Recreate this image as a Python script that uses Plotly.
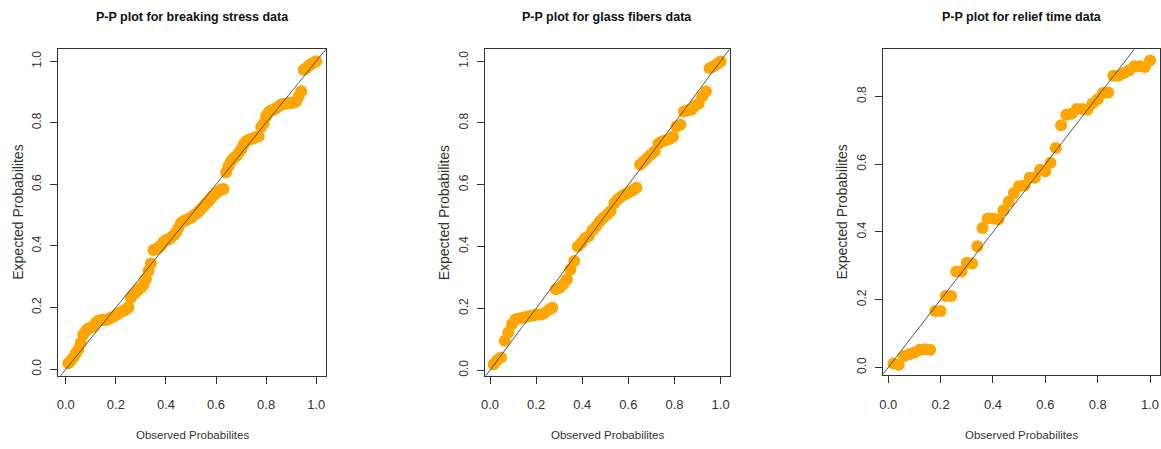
import plotly.graph_objects as go

# ---------------- data ----------------
stress_obs = [0.01, 0.02, 0.03, 0.04, 0.05, 0.06, 0.07, 0.08, 0.09, 0.10,
              0.11, 0.12, 0.13, 0.14, 0.15, 0.16, 0.17, 0.18, 0.19, 0.20,
              0.21, 0.22, 0.23, 0.24, 0.25, 0.26, 0.27, 0.28, 0.29, 0.30,
              0.31, 0.32, 0.33, 0.34, 0.35, 0.36, 0.37, 0.38, 0.39, 0.40,
              0.41, 0.42, 0.43, 0.44, 0.45, 0.46, 0.47, 0.48, 0.49, 0.50,
              0.51, 0.52, 0.53, 0.54, 0.55, 0.56, 0.57, 0.58, 0.59, 0.60,
              0.61, 0.62, 0.63, 0.64, 0.65, 0.66, 0.67, 0.68, 0.69, 0.70,
              0.71, 0.72, 0.73, 0.74, 0.75, 0.76, 0.77, 0.78, 0.79, 0.80,
              0.81, 0.82, 0.83, 0.84, 0.85, 0.86, 0.87, 0.88, 0.89, 0.90,
              0.91, 0.92, 0.93, 0.94, 0.95, 0.96, 0.97, 0.98, 0.99, 1.00]
stress_exp = [0.019, 0.027, 0.038, 0.052, 0.065, 0.086, 0.113, 0.124, 0.132, 0.135,
              0.138, 0.151, 0.157, 0.160, 0.160, 0.160, 0.162, 0.167, 0.170, 0.175,
              0.181, 0.186, 0.189, 0.194, 0.200, 0.232, 0.243, 0.250, 0.259, 0.265,
              0.275, 0.292, 0.319, 0.343, 0.387, 0.389, 0.394, 0.402, 0.413, 0.419,
              0.421, 0.427, 0.434, 0.443, 0.459, 0.475, 0.480, 0.484, 0.488, 0.491,
              0.499, 0.505, 0.512, 0.520, 0.529, 0.538, 0.545, 0.556, 0.564, 0.572,
              0.578, 0.583, 0.585, 0.639, 0.659, 0.675, 0.686, 0.691, 0.702, 0.713,
              0.729, 0.740, 0.745, 0.747, 0.750, 0.754, 0.756, 0.786, 0.797, 0.821,
              0.834, 0.840, 0.842, 0.848, 0.853, 0.859, 0.862, 0.862, 0.864, 0.864,
              0.866, 0.869, 0.886, 0.902, 0.972, 0.977, 0.985, 0.991, 0.996, 1.000]

glass_obs = [0.0159, 0.0317, 0.0476, 0.0635, 0.0794, 0.0952, 0.1111, 0.1270, 0.1429,
             0.1587, 0.1746, 0.1905, 0.2063, 0.2222, 0.2381, 0.2540, 0.2698, 0.2857,
             0.3016, 0.3175, 0.3333, 0.3492, 0.3651, 0.3810, 0.3968, 0.4127, 0.4286,
             0.4444, 0.4603, 0.4762, 0.4921, 0.5079, 0.5238, 0.5397, 0.5556, 0.5714,
             0.5873, 0.6032, 0.6190, 0.6349, 0.6508, 0.6667, 0.6825, 0.6984, 0.7143,
             0.7302, 0.7460, 0.7619, 0.7778, 0.7937, 0.8095, 0.8254, 0.8413, 0.8571,
             0.8730, 0.8889, 0.9048, 0.9206, 0.9365, 0.9524, 0.9683, 0.9841, 1.0000]
glass_exp = [0.019, 0.033, 0.041, 0.095, 0.122, 0.149, 0.165, 0.167, 0.170,
             0.173, 0.175, 0.178, 0.180, 0.180, 0.186, 0.195, 0.202, 0.262,
             0.267, 0.278, 0.294, 0.326, 0.353, 0.400, 0.412, 0.428, 0.434,
             0.453, 0.466, 0.482, 0.493, 0.504, 0.515, 0.541, 0.554, 0.563,
             0.570, 0.576, 0.582, 0.590, 0.665, 0.676, 0.687, 0.698, 0.708,
             0.733, 0.740, 0.744, 0.748, 0.755, 0.789, 0.794, 0.837, 0.841,
             0.843, 0.856, 0.862, 0.886, 0.902, 0.977, 0.983, 0.991, 0.999]

relief_obs = [0.02, 0.04, 0.06, 0.08, 0.10, 0.12, 0.14, 0.16, 0.18, 0.20,
              0.22, 0.24, 0.26, 0.28, 0.30, 0.32, 0.34, 0.36, 0.38, 0.40,
              0.42, 0.44, 0.46, 0.48, 0.50, 0.52, 0.54, 0.56, 0.58, 0.60,
              0.62, 0.64, 0.66, 0.68, 0.70, 0.72, 0.74, 0.76, 0.78, 0.80,
              0.82, 0.84, 0.86, 0.88, 0.90, 0.92, 0.94, 0.96, 0.98, 1.00]
relief_exp = [0.012, 0.008, 0.034, 0.039, 0.044, 0.052, 0.054, 0.052, 0.167, 0.167,
              0.211, 0.211, 0.283, 0.283, 0.309, 0.307, 0.358, 0.412, 0.440, 0.440,
              0.437, 0.464, 0.489, 0.515, 0.535, 0.537, 0.560, 0.560, 0.584, 0.579,
              0.604, 0.648, 0.715, 0.746, 0.749, 0.763, 0.763, 0.761, 0.779, 0.792,
              0.810, 0.812, 0.861, 0.861, 0.869, 0.877, 0.889, 0.889, 0.887, 0.906]

titles = ["P-P plot for breaking stress data",
          "P-P plot for glass fibers data",
          "P-P plot for relief time data"]
x_label = "Observed Probabilites"
y_label = "Expected Probabilites"
tick_vals = [0.0, 0.2, 0.4, 0.6, 0.8, 1.0]
tick_text = ["0.0", "0.2", "0.4", "0.6", "0.8", "1.0"]

# ---------------- styling / layout ----------------
W, H = 1161, 449
ORANGE = "#FFA500"
FONT = "Liberation Sans, Arial, sans-serif"

# panel boxes in pixels: (left, right, top, bottom)
boxes = [(54.3, 323.3, 49.3, 376.7),
         (482.3, 728.3, 49.3, 376.7),
         (882.3, 1160.0, 49.3, 376.0)]
x_ranges = [[-0.0306, 1.0398], [-0.0233, 1.0400], [-0.0190, 1.0380]]
y_ranges = [[-0.0217, 1.0389], [-0.0184, 1.0387], [-0.0227, 0.9396]]

series = [(stress_obs, stress_exp), (glass_obs, glass_exp), (relief_obs, relief_exp)]

fig = go.Figure()
layout = dict(width=W, height=H, margin=dict(l=0, r=0, t=0, b=0),
              paper_bgcolor="white", plot_bgcolor="white", showlegend=False,
              annotations=[])

for k, ((obs, exp), (l, r, t, b)) in enumerate(zip(series, boxes)):
    sfx = "" if k == 0 else str(k + 1)
    xa, ya = "x" + sfx, "y" + sfx
    fig.add_trace(go.Scatter(x=obs, y=exp, mode="markers", xaxis=xa, yaxis=ya,
                             marker=dict(color=ORANGE, size=12, line=dict(width=0)),
                             hoverinfo="skip"))
    # identity reference line across the panel
    lo = min(x_ranges[k][0], y_ranges[k][0]) - 0.1
    hi = max(x_ranges[k][1], y_ranges[k][1]) + 0.1
    fig.add_trace(go.Scatter(x=[lo, hi], y=[lo, hi], mode="lines", xaxis=xa, yaxis=ya,
                             line=dict(color="#444444", width=0.9), hoverinfo="skip"))

    ytv = [v for v in tick_vals if v <= y_ranges[k][1]]
    ytt = tick_text[:len(ytv)]
    layout["xaxis" + sfx] = dict(
        domain=[l / W, r / W], range=x_ranges[k], anchor=ya,
        showgrid=False, zeroline=False, showline=True, mirror=True,
        linecolor="#333333", linewidth=1, ticks="outside", ticklen=7,
        tickcolor="#333333", tickvals=tick_vals, ticktext=tick_text,
        ticklabelstandoff=10, tickfont=dict(family=FONT, size=13, color="#333333"))
    layout["yaxis" + sfx] = dict(
        domain=[1 - b / H, 1 - t / H], range=y_ranges[k], anchor=xa,
        showgrid=False, zeroline=False, showline=True, mirror=True,
        linecolor="#333333", linewidth=1, ticks="outside", ticklen=7,
        tickcolor="#333333", tickvals=ytv, ticktext=ytt, tickangle=-90,
        ticklabelstandoff=4, tickfont=dict(family=FONT, size=12, color="#333333"))

    cx = (l + r) / 2 / W
    layout["annotations"] += [
        dict(text="<b>" + titles[k] + "</b>", xref="paper", yref="paper",
             x=cx, y=1 - 17 / H, showarrow=False, xanchor="center", yanchor="middle",
             font=dict(family=FONT, size=12.5, color="#111111")),
        dict(text=x_label, xref="paper", yref="paper",
             x=cx, y=1 - 436 / H, showarrow=False, xanchor="center", yanchor="middle",
             font=dict(family=FONT, size=11.5, color="#333333")),
        dict(text=y_label, xref="paper", yref="paper", textangle=-90,
             x=(l - 41) / W, y=1 - (t + b) / 2 / H, showarrow=False,
             xanchor="center", yanchor="middle",
             font=dict(family=FONT, size=14, color="#333333")),
    ]

fig.update_layout(**layout)
fig.write_html("out.html")
